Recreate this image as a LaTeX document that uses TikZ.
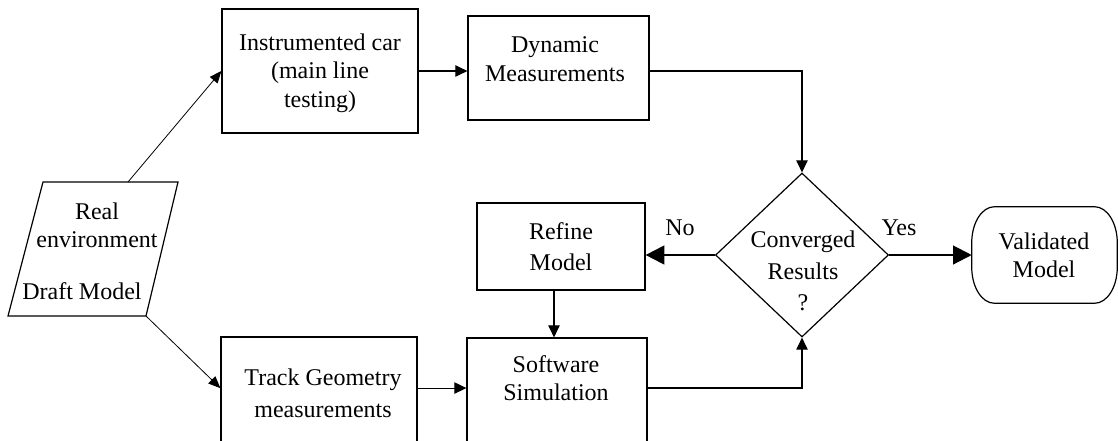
\documentclass[tikz,border=0pt]{standalone}
\usepackage{fontspec}
\setmainfont{Liberation Serif}
\usetikzlibrary{arrows.meta,shapes.geometric}
\begin{document}
\begin{tikzpicture}[x=0.75pt,y=-0.75pt,
  box/.style={draw, line width=0.9pt, inner sep=0pt},
  txt/.style={align=center, inner sep=0pt},
  conn/.style={line width=0.8pt, -{Triangle[length=9pt,width=8.5pt]}},
  thinarr/.style={line width=0.6pt, -{Triangle[length=9pt,width=7.5pt]}},
  bigarr/.style={line width=1.6pt, -{Triangle[length=14pt,width=14pt]}}]
\useasboundingbox (0,0) rectangle (1118,440);
\clip (0,0) rectangle (1118,440);

% boxes
\node[box, minimum width=147pt, minimum height=93pt] (inst) at (320,71) {};
\node[box, minimum width=135.75pt, minimum height=78pt] (dyn) at (558.5,68) {};
\node[box, minimum width=126pt, minimum height=65.25pt] (ref) at (561,246.5) {};
\node[box, minimum width=135pt, minimum height=84pt] (sw) at (557,394) {};
\node[box, minimum width=147pt, minimum height=84.75pt] (tr) at (319,393.5) {};
\node[box, diamond, minimum width=129.75pt, minimum height=123pt] (dia) at (802,255) {};
\node[inner sep=0pt, minimum width=108.75pt, minimum height=72pt] (val) at (1044.5,255) {};
\draw[line width=0.9pt]
  ([xshift=17pt]val.north west) -- ([xshift=-17pt]val.north east)
  arc[start angle=90, end angle=0, x radius=17pt, y radius=27pt]
  -- ([yshift=27pt]val.south east)
  arc[start angle=0, end angle=-90, x radius=17pt, y radius=27pt]
  -- ([xshift=17pt]val.south west)
  arc[start angle=-90, end angle=-180, x radius=17pt, y radius=27pt]
  -- ([yshift=-27pt]val.north west)
  arc[start angle=180, end angle=90, x radius=17pt, y radius=27pt] -- cycle;

% parallelogram
\draw[line width=0.9pt] (43,182) -- (178,182) -- (146,316) -- (8,316) -- cycle;
\coordinate (envtop) at (128,182);
\coordinate (envbr) at (146,316);

% texts
\node[txt, font=\fontsize{18}{21.4}\selectfont] (instt) at (320,73) {Instrumented car\\(main line\\testing)};
\node[txt, font=\fontsize{18}{21.75}\selectfont] (dynt) at (555,59) {Dynamic\\Measurements};
\node[txt, font=\fontsize{18}{23.25}\selectfont] (reft) at (561,247) {Refine\\Model};
\node[txt, font=\fontsize{18}{21}\selectfont] (swt) at (556,378) {Software\\Simulation};
\node[txt, font=\fontsize{18}{24}\selectfont] (trt) at (323,393) {Track Geometry\\measurements};
\node[txt, font=\fontsize{18}{23.6}\selectfont] (diat) at (803,271) {Converged\\Results\\?};
\node[txt, font=\fontsize{18}{21}\selectfont] (valt) at (1044,255) {Validated\\Model};
\node[txt, font=\fontsize{18}{21}\selectfont] (envt) at (97,225) {Real\\environment};
\node[txt, font=\fontsize{18}{21}\selectfont] (draft) at (82,291) {Draft Model};
\node[txt, font=\fontsize{18}{21}\selectfont] (no) at (680,228) {No};
\node[txt, font=\fontsize{18}{21}\selectfont] (yes) at (899,228) {Yes};

% connectors
\draw[thinarr] (envtop) -- (inst.west);
\draw[thinarr] (envbr) -- ([yshift=4pt]tr.west);
\draw[conn] (inst.east) -- (inst.east -| dyn.west);
\draw[conn] (inst.east -| dyn.east) -| (dia.north);
\draw[conn] ([yshift=4.1pt]tr.east) -- ([yshift=4.1pt]tr.east -| sw.west);
\draw[conn] ([yshift=4.5pt]sw.east) -| (dia.south);
\draw[conn] ([xshift=-5.25pt]ref.south) -- ([xshift=-5.25pt]ref.south |- sw.north);
\draw[bigarr] (dia.west) -- (dia.west -| ref.east);
\draw[bigarr] (dia.east) -- (dia.east -| val.west);
\end{tikzpicture}
\end{document}
